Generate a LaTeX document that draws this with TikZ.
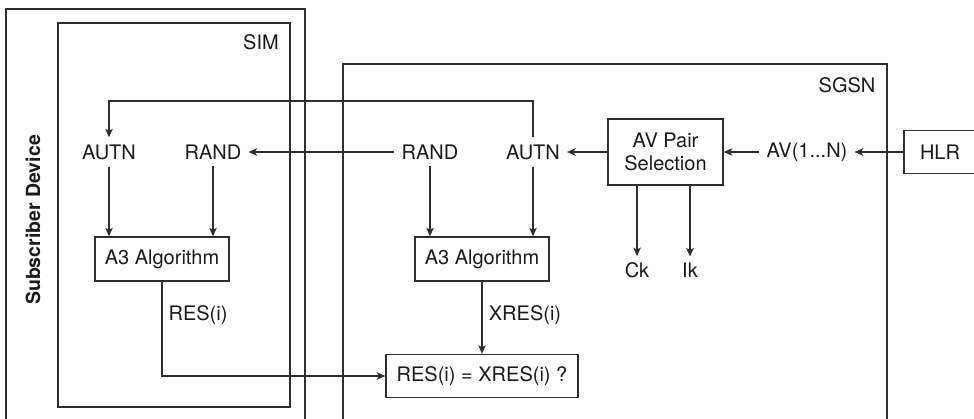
\documentclass[tikz,border=0pt]{standalone}
\usepackage{fontspec}
\setmainfont{TeX Gyre Heros}
\usetikzlibrary{arrows.meta}
\definecolor{ln}{HTML}{2E2E2E}
\definecolor{tx}{HTML}{1A1A1A}
\begin{document}
\begin{tikzpicture}[x=1pt,y=-1pt,
  every node/.style={font=\fontsize{20}{23.5}\selectfont, text=tx},
  boxnode/.style={draw=ln, line width=1.35pt, rectangle, inner sep=0pt, align=center},
  lbl/.style={inner sep=7pt},
  conn/.style={draw=ln, line width=1.35pt},
  arr/.style={conn, -{Stealth[length=8.5pt,width=7.5pt,inset=2pt]}}]
\useasboundingbox (0,0) rectangle (974,419);
\clip (0,0) rectangle (974,419);
\fill[white] (0,0) rectangle (974,419);

% containers
\draw[conn] (6,425) -- (6,9) -- (305,9) -- (305,425);
\draw[conn] (58,23) rectangle (290,407);
\draw[conn] (343,425) -- (343,64) -- (887,64) -- (887,425);
\node (simt) at (261,42) {SIM};
\node (sgsnt) at (847,85) {SGSN};
\node[rotate=90, font=\fontsize{19.5}{23}\selectfont\bfseries] (subdev) at (33,220) {Subscriber Device};

% boxes
\node[boxnode, minimum width=134pt, minimum height=44pt] (a3L) at (162,259) {A3 Algorithm};
\node[boxnode, minimum width=134pt, minimum height=44pt] (a3R) at (482,259) {A3 Algorithm};
\node[boxnode, minimum width=115pt, minimum height=66pt] (av) at (665.5,152) {AV Pair\\Selection};
\node[boxnode, minimum width=72pt, minimum height=43pt] (hlr) at (940,152) {HLR};
\node[boxnode, minimum width=192pt, minimum height=43pt] (res) at (482,376) {RES(i) = XRES(i) ?};

% labels
\node[lbl] (autnL) at (109,152) {AUTN};
\node[lbl] (randL) at (213,152) {RAND};
\node[lbl] (randR) at (430,152) {RAND};
\node[lbl] (autnR) at (533,152) {AUTN};
\node[lbl] (avn) at (807,152) {AV(1...N)};
\node[lbl, inner sep=6pt] (ck) at (637,270) {Ck};
\node[lbl, inner sep=6pt] (ik) at (690,270) {Ik};
\node (xres) at (525,315) {XRES(i)};
\node (resl) at (198,315) {RES(i)};

% connectors
\coordinate (topR) at (533,101);
\coordinate (topL) at (109,101);
\draw[arr] (autnR.north) -- (topR) -- (topL) -- (autnL.north);
\draw[arr] (randR.west) -- (randL.east);
\draw[arr] (autnL.south) -- (autnL.south |- a3L.north);
\draw[arr] (randL.south) -- (randL.south |- a3L.north);
\draw[arr] (randR.south) -- (randR.south |- a3R.north);
\draw[arr] (autnR.south) -- (autnR.south |- a3R.north);
\draw[arr] (av.west) -- (autnR.east);
\draw[arr] (avn.west) -- (av.east);
\draw[arr] (hlr.west) -- (avn.east);
\draw[arr] (ck.north |- av.south) -- (ck.north);
\draw[arr] (ik.north |- av.south) -- (ik.north);
\draw[arr] (a3R.south) -- (res.north);
\coordinate (bend) at (a3L.south |- res.west);
\draw[arr] (a3L.south) -- (bend) -- (res.west);
\end{tikzpicture}
\end{document}
